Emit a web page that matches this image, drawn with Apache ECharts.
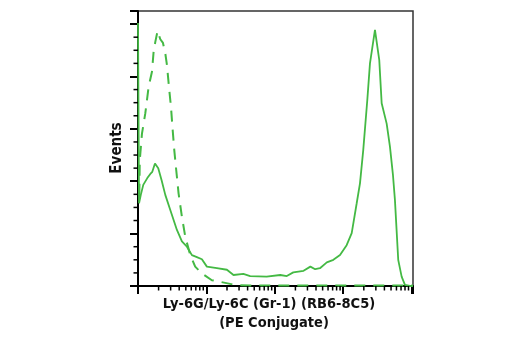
<!DOCTYPE html>
<html>
<head>
<meta charset="utf-8">
<script src="https://cdn.jsdelivr.net/npm/echarts@6/dist/echarts.min.js"></script>
<style>html,body{margin:0;padding:0;background:#fff;}#c{width:520px;height:350px;}</style>
</head>
<body>
<div id="c"></div>
<script>
// x values are positions in log10 decades of fluorescence intensity (0 = 10^0 ... 4 = 10^4)
var solidX = [0, 0.015, 0.041, 0.077, 0.136, 0.18, 0.209, 0.248, 0.277, 0.296, 0.345, 0.399, 0.472, 0.569, 0.642, 0.715, 0.788, 0.861, 0.934, 1.007, 1.153, 1.30, 1.396, 1.54, 1.64, 1.88, 2.08, 2.175, 2.27, 2.42, 2.52, 2.59, 2.66, 2.76, 2.856, 2.953, 3.05, 3.124, 3.197, 3.245, 3.293, 3.352, 3.391, 3.464, 3.527, 3.562, 3.635, 3.683, 3.727, 3.756, 3.804, 3.854, 3.902, 3.975, 4.02];
var solidY = [5.02, 1.58, 1.74, 1.93, 2.06, 2.14, 2.18, 2.34, 2.34, 2.25, 2.02, 1.74, 1.45, 1.07, 0.85, 0.75, 0.59, 0.55, 0.51, 0.37, 0.34, 0.31, 0.21, 0.23, 0.19, 0.18, 0.21, 0.19, 0.26, 0.29, 0.37, 0.32, 0.34, 0.45, 0.50, 0.59, 0.78, 1.01, 1.58, 1.96, 2.60, 3.55, 4.25, 4.89, 4.31, 3.49, 3.10, 2.66, 2.12, 1.64, 0.50, 0.18, 0.02, 0, 0];
var dashedX = [0.019, 0.026, 0.058, 0.107, 0.155, 0.204, 0.228, 0.253, 0.286, 0.326, 0.365, 0.399, 0.423, 0.453, 0.482, 0.505, 0.530, 0.559, 0.593, 0.642, 0.691, 0.764, 0.836, 0.934, 1.08, 1.20, 1.42, 1.64, 2.0, 3.0, 4.02];
var dashedY = [1.74, 2.40, 2.91, 3.30, 3.80, 4.09, 4.47, 4.66, 4.87, 4.71, 4.64, 4.44, 4.22, 3.80, 3.42, 3.01, 2.60, 2.21, 1.77, 1.32, 0.94, 0.59, 0.37, 0.24, 0.11, 0.08, 0.02, 0.01, 0.01, 0.01, 0.01];
var decades = [0, 1, 2, 3];
var minorMultipliers = [2, 3, 4, 5, 6, 7, 8, 9];
var yMajors = [0, 1, 2, 3, 4];
var yMinorSteps = [0.25, 0.5, 0.75];
var yTitle = 'Events';
var xTitle1 = 'Ly-6G/Ly-6C (Gr-1) (RB6-8C5)';
var xTitle2 = '(PE Conjugate)';

function zip(xs, ys) { return xs.map(function (x, i) { return [x, ys[i]]; }); }
var xMinorTicks = [];
decades.forEach(function (d) { minorMultipliers.forEach(function (m) { xMinorTicks.push([d + Math.log10(m), 0]); }); });
var yMinorTicks = [];
yMajors.forEach(function (v) { yMinorSteps.forEach(function (s) { yMinorTicks.push([0, v + s]); }); });

var green = '#44b944';
var font = "'Liberation Sans Narrow', 'DejaVu Sans Condensed', 'Roboto', sans-serif";
var chart = echarts.init(document.getElementById('c'), null, { renderer: 'canvas' });
chart.setOption({
  animation: false,
  backgroundColor: '#fff',
  grid: { left: 138, top: 11, right: 107, bottom: 64, show: true, borderColor: '#333', borderWidth: 1.5, backgroundColor: 'transparent' },
  xAxis: {
    type: 'value', min: 0, max: 4.02, interval: 1,
    axisLine: { show: true, lineStyle: { color: '#000', width: 2 } },
    axisTick: { show: true, length: 8, lineStyle: { color: '#000', width: 2 } },
    axisLabel: { show: false }, splitLine: { show: false }
  },
  yAxis: {
    type: 'value', min: 0, max: 5.25, interval: 1,
    axisLine: { show: true, lineStyle: { color: '#000', width: 2 } },
    axisTick: { show: true, length: 8, lineStyle: { color: '#000', width: 2 } },
    axisLabel: { show: false }, splitLine: { show: false }
  },
  series: [
    { type: 'line', data: zip(dashedX, dashedY), showSymbol: false, smooth: false,
      lineStyle: { color: green, width: 2, type: [11, 8] }, z: 3 },
    { type: 'line', data: zip(solidX, solidY), showSymbol: false, smooth: false,
      lineStyle: { color: green, width: 1.8 }, z: 4 },
    { type: 'custom', data: xMinorTicks, clip: false, silent: true, z: 10,
      renderItem: function (params, api) {
        var p = api.coord([api.value(0), 0]);
        return { type: 'line', shape: { x1: p[0], y1: p[1], x2: p[0], y2: p[1] + 4.5 },
                 style: { stroke: '#000', lineWidth: 1.5 } };
      } },
    { type: 'custom', data: yMinorTicks, clip: false, silent: true, z: 10,
      renderItem: function (params, api) {
        var p = api.coord([0, api.value(1)]);
        return { type: 'line', shape: { x1: p[0] - 4.5, y1: p[1], x2: p[0], y2: p[1] },
                 style: { stroke: '#000', lineWidth: 1.5 } };
      } }
  ],
  graphic: [
    { type: 'text', rotation: Math.PI / 2, x: 117, y: 148,
      style: { text: yTitle, font: 'bold 15px ' + font, fill: '#111', textAlign: 'center', textVerticalAlign: 'middle' } },
    { type: 'text', x: 269, y: 304,
      style: { text: xTitle1, font: 'bold 14.5px ' + font, fill: '#111', textAlign: 'center', textVerticalAlign: 'middle' } },
    { type: 'text', x: 274, y: 323,
      style: { text: xTitle2, font: 'bold 14.5px ' + font, fill: '#111', textAlign: 'center', textVerticalAlign: 'middle' } }
  ]
});
</script>
</body>
</html>
